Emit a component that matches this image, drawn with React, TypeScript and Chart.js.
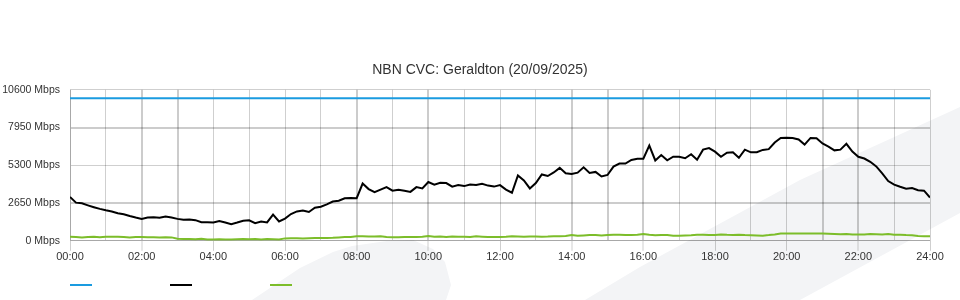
import React, { useEffect, useRef } from 'react';
import { Chart, registerables } from 'chart.js';

Chart.register(...registerables);

const TITLE = 'NBN CVC: Geraldton (20/09/2025)';
const SERIES_NAMES = ['Capacity', 'Download', 'Upload'];
const SERIES_COLORS = ['#1a9be0', '#000000', '#7cbd2a'];
const Y_MAX = 10600;
const Y_STEP = 2650;
const X_STEP_HOURS = 1;
const X_LABEL_EVERY = 2;
const SAMPLE_MINUTES = 10;

const capacityHours = [0, 24];
const capacityMbps = [10000, 10000];

const downloadMbps = [
  3080, 2680, 2630, 2490, 2360, 2240, 2145, 2060, 1940, 1860, 1740, 1635,
  1540, 1635, 1650, 1620, 1705, 1635, 1540, 1470, 1490, 1450, 1300, 1300,
  1280, 1380, 1280, 1170, 1280, 1400, 1440, 1240, 1350, 1290, 1840, 1360,
  1560, 1880, 2060, 2130, 2025, 2320, 2395, 2560, 2760, 2810, 2990, 3010,
  2990, 4020, 3630, 3410, 3590, 3770, 3520, 3590, 3520, 3435, 3770, 3675,
  4125, 3945, 4075, 4050, 3805, 3910, 3840, 3945, 3910, 4000, 3875, 3805,
  3910, 3590, 3375, 4590, 4240, 3675, 4050, 4660, 4550, 4800, 5120, 4740,
  4690, 4785, 5155, 4765, 4835, 4515, 4620, 5210, 5425, 5420, 5675, 5760,
  5760, 6685, 5640, 6025, 5655, 5900, 5900, 5795, 6080, 5690, 6400, 6505,
  6260, 5900, 6185, 6210, 5830, 6400, 6210, 6220, 6380, 6435, 6900, 7220,
  7230, 7220, 7110, 6755, 7220, 7195, 6830, 6615, 6350, 6400, 6810, 6260,
  5900, 5775, 5545, 5225, 4730, 4195, 3945, 3790, 3660, 3700, 3555, 3520,
  3040,
];

const uploadMbps = [
  280, 260, 230, 270, 280, 250, 280, 290, 290, 270, 240, 270,
  260, 250, 250, 240, 250, 240, 150, 130, 120, 110, 140, 100,
  100, 110, 100, 90, 110, 120, 110, 130, 100, 120, 110, 100,
  170, 180, 180, 170, 180, 190, 190, 200, 210, 240, 260, 270,
  320, 320, 310, 300, 320, 260, 250, 250, 260, 270, 260, 280,
  330, 280, 310, 270, 300, 290, 280, 270, 320, 290, 260, 260,
  260, 280, 320, 310, 290, 300, 310, 290, 300, 320, 320, 330,
  410, 360, 380, 400, 400, 380, 410, 420, 420, 400, 410, 420,
  480, 430, 390, 400, 410, 360, 360, 380, 390, 420, 430, 400,
  410, 440, 420, 410, 420, 400, 390, 380, 360, 400, 450, 520,
  520, 520, 520, 510, 520, 520, 510, 500, 480, 460, 470, 450,
  450, 440, 470, 460, 450, 470, 430, 420, 400, 390, 330, 320,
  320,
];

// grid lines that render heavier in the reference image
const HEAVY_X_HOURS = [2, 3, 8, 10, 14, 15, 16, 21, 22];
const HEAVY_Y_VALUES = [2650, 7950];
const GRID_LIGHT = 'rgba(0,0,0,0.19)';
const GRID_HEAVY = 'rgba(0,0,0,0.2)';

const toPoints = (values: number[]) =>
  values.map((v, i) => ({ x: (i * SAMPLE_MINUTES) / 60, y: v }));

const pad2 = (n: number) => (n < 10 ? '0' + n : '' + n);

const watermarkPlugin = {
  id: 'watermark',
  beforeDraw(chart: any) {
    const ctx = chart.ctx;
    ctx.save();
    ctx.fillStyle = '#f3f4f6';
    ctx.beginPath();
    ctx.moveTo(585, 300);
    ctx.lineTo(640, 267);
    ctx.lineTo(800, 180);
    ctx.lineTo(960, 107);
    ctx.lineTo(960, 213);
    ctx.lineTo(800, 300);
    ctx.closePath();
    ctx.fill();
    ctx.beginPath();
    ctx.moveTo(252, 300);
    ctx.lineTo(300, 268);
    ctx.lineTo(333, 252);
    ctx.lineTo(352, 246);
    ctx.lineTo(387, 241);
    ctx.lineTo(413, 240);
    ctx.lineTo(433, 249);
    ctx.lineTo(445, 262);
    ctx.lineTo(451, 285);
    ctx.lineTo(446, 300);
    ctx.closePath();
    ctx.fill();
    ctx.restore();
  },
};

const legendLinesPlugin = {
  id: 'legendLines',
  afterDraw(chart: any) {
    const ctx = chart.ctx;
    const left = chart.chartArea.left;
    ctx.save();
    ctx.lineWidth = 2;
    chart.data.datasets.forEach((ds: any, k: number) => {
      ctx.strokeStyle = ds.borderColor;
      ctx.beginPath();
      ctx.moveTo(left + k * 100, 285);
      ctx.lineTo(left + k * 100 + 22, 285);
      ctx.stroke();
    });
    ctx.restore();
  },
};

export default function App() {
  const ref = useRef<HTMLCanvasElement | null>(null);

  useEffect(() => {
    document.body.style.margin = '0';
    const canvas = ref.current;
    if (!canvas) return;
    const font = 'Liberation Sans, Arial, sans-serif';
    const isHeavyX = (v: number) => HEAVY_X_HOURS.indexOf(v) >= 0;
    const isHeavyY = (v: number) => HEAVY_Y_VALUES.indexOf(v) >= 0;
    const chart = new Chart(canvas, {
      type: 'line',
      data: {
        datasets: [
          {
            label: SERIES_NAMES[0],
            data: capacityHours.map((h, i) => ({ x: h, y: capacityMbps[i] })),
            borderColor: SERIES_COLORS[0],
            borderWidth: 2,
            pointRadius: 0,
            tension: 0,
          },
          {
            label: SERIES_NAMES[1],
            data: toPoints(downloadMbps),
            borderColor: SERIES_COLORS[1],
            borderWidth: 2,
            pointRadius: 0,
            tension: 0,
          },
          {
            label: SERIES_NAMES[2],
            data: toPoints(uploadMbps),
            borderColor: SERIES_COLORS[2],
            borderWidth: 2,
            pointRadius: 0,
            tension: 0,
          },
        ],
      },
      options: {
        responsive: false,
        animation: false,
        layout: { padding: { top: 0, left: 0, right: 0, bottom: 36 } },
        plugins: {
          legend: { display: false },
          tooltip: { enabled: false },
          title: {
            display: true,
            text: TITLE,
            color: '#333',
            font: { family: font, size: 14, weight: 'normal' },
            padding: { top: 62, bottom: 11 },
          },
        },
        scales: {
          x: {
            type: 'linear',
            min: 0,
            max: 24,
            grid: {
              color: (c: any) => (c.tick && isHeavyX(c.tick.value) ? GRID_HEAVY : GRID_LIGHT),
              lineWidth: (c: any) => (c.tick && isHeavyX(c.tick.value) ? 2 : 1),
              tickColor: (c: any) =>
                c.tick && c.tick.value % X_LABEL_EVERY === 0 ? GRID_LIGHT : 'rgba(0,0,0,0)',
              tickWidth: 1,
              tickLength: 10,
              drawTicks: true,
            },
            border: { color: GRID_LIGHT },
            ticks: {
              stepSize: X_STEP_HOURS,
              autoSkip: false,
              maxRotation: 0,
              padding: 0,
              color: '#333',
              font: { family: font, size: 11 },
              callback: (v: any) =>
                Number(v) % X_LABEL_EVERY === 0 ? pad2(Number(v)) + ':00' : '',
            },
          },
          y: {
            min: 0,
            max: Y_MAX,
            afterFit: (scale: any) => {
              scale.width = 70;
            },
            grid: {
              color: (c: any) => (c.tick && isHeavyY(c.tick.value) ? GRID_HEAVY : GRID_LIGHT),
              lineWidth: (c: any) => (c.tick && isHeavyY(c.tick.value) ? 2 : 1),
              drawTicks: false,
            },
            border: { color: GRID_LIGHT },
            ticks: {
              stepSize: Y_STEP,
              padding: 10,
              color: '#333',
              font: { family: font, size: 10.5 },
              callback: (v: any) => v + ' Mbps',
            },
          },
          yRightSpace: {
            position: 'right',
            display: true,
            afterFit: (scale: any) => {
              scale.width = 30;
            },
            grid: { display: false, drawTicks: false },
            border: { display: false },
            ticks: { display: false },
          },
        },
      },
      plugins: [watermarkPlugin, legendLinesPlugin],
    } as any);
    return () => chart.destroy();
  }, []);

  return (
    <div style={{ width: 960, height: 300 }}>
      <canvas ref={ref} width={960} height={300} />
    </div>
  );
}
